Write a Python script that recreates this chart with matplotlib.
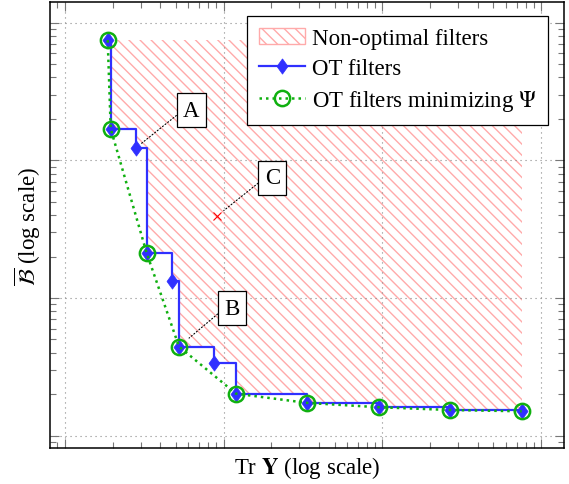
import matplotlib
matplotlib.use("Agg")
import matplotlib.pyplot as plt
from matplotlib.patches import Patch
from matplotlib.lines import Line2D

plt.rcParams["font.family"] = ["Liberation Serif", "DejaVu Serif"]
plt.rcParams["mathtext.fontset"] = "stix"
plt.rcParams["hatch.linewidth"] = 1.0

# OT filters (every point of the staircase)
ot_trace = [1.865, 1.948, 2.797, 3.281, 4.733, 5.241, 8.74, 11.97, 33.7, 94.6, 267.0, 752.0]
ot_bias = [747.0, 169.6, 122.9, 21.2, 13.3, 4.44, 3.39, 2.02, 1.73, 1.61, 1.537, 1.504]

# OT filters minimizing Psi
psi_trace = [1.865, 1.948, 3.281, 5.241, 11.97, 33.7, 94.6, 267.0, 752.0]
psi_bias = [747.0, 169.6, 21.2, 4.44, 2.02, 1.73, 1.61, 1.537, 1.504]

# point C
c_trace = 9.13
c_bias = 39.6

labels = ["Non-optimal filters", "OT filters", r"OT filters minimizing $\Psi$"]

hatch_col = "#ffaaaa"
blue = "#3030ff"
green = "#10b010"
fs = 16.5
diamond = [(0, 1), (0.72, 0), (0, -1), (-0.72, 0), (0, 1)]

fig = plt.figure(figsize=(5.69, 4.85), dpi=100)
ax = fig.add_axes([50 / 569, 1 - 449.3 / 485, 514 / 569, 446 / 485])
ax.set_xscale("log")
ax.set_yscale("log")

# hatched region above the staircase
ax.fill_between(ot_trace, ot_bias, ot_bias[0], step="post",
                facecolor="none", edgecolor=hatch_col, hatch="\\\\\\", linewidth=0, zorder=1)

ax.plot(ot_trace, ot_bias, drawstyle="steps-post", color=blue, lw=1.6,
        marker=diamond, ms=11, mfc=blue, mec=blue, mew=0.5, zorder=3)
ax.plot(psi_trace, psi_bias, linestyle=(0, (1, 1.6)), color=green, lw=1.8,
        marker="o", ms=11, mfc="none", mec=green, mew=1.8, zorder=4)

ax.plot([c_trace], [c_bias], marker="x", color="red", ms=5.5, mew=0.8, ls="none", zorder=3)

box = dict(boxstyle="square,pad=0.28", fc="white", ec="black", lw=0.9)
line = dict(arrowstyle="-", linestyle=(0, (1, 2)), color="black", lw=0.8, relpos=(0, 0.5), shrinkA=0)
ax.annotate("A", xy=(ot_trace[2], ot_bias[2]), xytext=(6.28, 232), ha="center", va="center",
            fontsize=fs, bbox=box, arrowprops=dict(line, shrinkB=4.6), zorder=5)
ax.annotate("B", xy=(ot_trace[5], ot_bias[5]), xytext=(11.33, 8.43), ha="center", va="center",
            fontsize=fs, bbox=box, arrowprops=dict(line, shrinkB=9.5), zorder=5)
ax.annotate("C", xy=(c_trace, c_bias), xytext=(20.3, 74.7), ha="center", va="center",
            fontsize=fs, bbox=box, arrowprops=dict(line, shrinkB=6), zorder=5)

ax.set_xlim(0.808, 1390)
ax.set_ylim(0.81, 1406)
ax.grid(True, which="major", color="#888888", linestyle=(0, (1, 3.5)), lw=0.8)
ax.tick_params(which="both", direction="in", top=True, right=True,
               labelbottom=False, labelleft=False, color="#777777", width=0.8)
ax.tick_params(which="major", length=6.5)
ax.tick_params(which="minor", length=4.3)
for s in ax.spines.values():
    s.set_linewidth(1.1)

ax.set_xlabel(r"Tr $\mathbf{Y}$ (log scale)", fontsize=fs, labelpad=4)
ax.set_ylabel(r"$\overline{\mathcal{B}}$ (log scale)", fontsize=fs, labelpad=5)

handles = [
    Patch(facecolor="none", edgecolor=hatch_col, hatch="\\\\\\", lw=1),
    Line2D([], [], color=blue, lw=1.6, marker=diamond, ms=11, mfc=blue, mec=blue, mew=0.5),
    Line2D([], [], color=green, lw=1.8, linestyle=(0, (1, 1.6)), marker="o", ms=11,
           mfc="none", mec=green, mew=1.8),
]
leg = ax.legend(handles, labels, loc="upper right", bbox_to_anchor=(0.969, 0.9686),
                borderaxespad=0, fontsize=fs, fancybox=False, framealpha=1,
                edgecolor="black", handlelength=2.0, handletextpad=0.3,
                labelspacing=0.4, borderpad=0.5)
leg.get_frame().set_linewidth(0.9)

fig.savefig("out.png", dpi=100)
